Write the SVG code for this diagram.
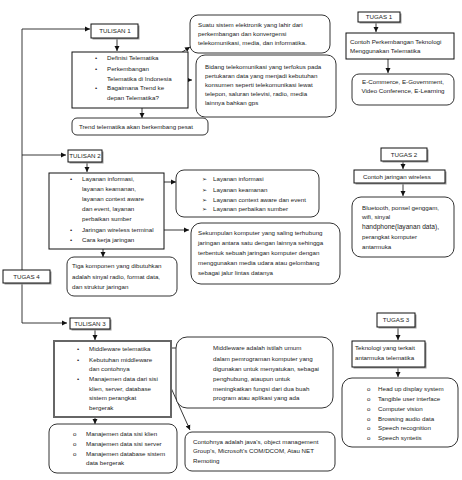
<svg xmlns="http://www.w3.org/2000/svg" width="462" height="480" viewBox="0 0 462 480">
<defs>
<marker id="ah" markerWidth="6" markerHeight="6" refX="5" refY="3" orient="auto" markerUnits="userSpaceOnUse">
<path d="M0,0.5 L5,3 L0,5.5 Z" fill="#111"/>
</marker>
<style>
text{font-family:"Liberation Sans",Arial,sans-serif;font-size:6.2px;fill:#222}
.lbl{text-anchor:middle}
.sq{fill:#fff;stroke:#111;stroke-width:1}
.thick{fill:#fff;stroke:#666;stroke-width:2}
.rd{fill:#fff;stroke:#333;stroke-width:1}
.sh{fill:#999}
.ln{fill:none;stroke:#222;stroke-width:0.9}
.ar{fill:none;stroke:#222;stroke-width:0.9;marker-end:url(#ah)}
</style>
</defs>
<rect width="462" height="480" fill="#fff"/>

<g id="connectors">
<polyline class="ln" points="22,270 22,29"/>
<line class="ar" x1="22" y1="29" x2="90" y2="29"/>
<line class="ar" x1="22" y1="155" x2="66" y2="155"/>
<polyline class="ar" points="22,283 22,323 67,323"/>
<line class="ar" x1="117" y1="38" x2="117" y2="51"/>
<line class="ar" x1="142" y1="108" x2="142" y2="118"/>
<line class="ar" x1="173" y1="58" x2="190" y2="47"/>
<line class="ar" x1="175" y1="80" x2="192" y2="80"/>
<line class="ar" x1="376" y1="21" x2="376" y2="32"/>
<line class="ar" x1="388" y1="59" x2="388" y2="73"/>
<line class="ar" x1="87" y1="162" x2="87" y2="172"/>
<line class="ar" x1="148" y1="182" x2="176" y2="182"/>
<line class="ar" x1="160" y1="230" x2="189" y2="230"/>
<line class="ar" x1="103" y1="249" x2="103" y2="257"/>
<line class="ar" x1="403" y1="161" x2="403" y2="169"/>
<line class="ar" x1="403" y1="183" x2="403" y2="196"/>
<line class="ar" x1="95" y1="329" x2="95" y2="340"/>
<line class="ar" x1="95" y1="417" x2="95" y2="424"/>
<line class="ar" x1="158" y1="348" x2="208" y2="348"/>
<line class="ar" x1="158" y1="359" x2="190" y2="430"/>
<line class="ar" x1="398" y1="327" x2="398" y2="340"/>
<line class="ar" x1="398" y1="367" x2="398" y2="377"/>
</g>

<g id="tulisan1">
<rect class="sh" x="92.5" y="25.5" width="47" height="14"/>
<rect class="sq" x="91" y="24" width="47" height="14"/>
<text class="lbl" x="115" y="33">TULISAN 1</text>
</g>

<g id="isi1">
<rect class="sq" x="72" y="52" width="116" height="56"/>
<text x="95" y="60">•</text><text x="107" y="60">Definisi Telematika</text>
<text x="95" y="71">•</text><text x="107" y="71">Perkembangan</text>
<text x="107" y="81">Telematika di Indonesia</text>
<text x="95" y="90">•</text><text x="107" y="90">Bagaimana Trend ke</text>
<text x="107" y="100">depan Telematika?</text>
</g>

<g id="trend">
<rect class="rd" x="72" y="118" width="136" height="17" rx="5"/>
<text x="79" y="129">Trend telematika akan berkembang pesat</text>
</g>

<g id="definisi">
<rect class="rd" x="190" y="15" width="140" height="38" rx="8"/>
<text x="198" y="27">Suatu sistem elektronik yang lahir dari</text>
<text x="198" y="36">perkembangan dan konvergensi</text>
<text x="198" y="45">telekomunikasi, media, dan informatika.</text>
</g>

<g id="bidang">
<rect class="rd" x="196" y="55" width="140" height="62" rx="9"/>
<text x="205" y="69">Bidang telekomunikasi yang terfokus pada</text>
<text x="205" y="78">pertukaran data yang menjadi kebutuhan</text>
<text x="205" y="87">konsumen seperti telekomunikasi lewat</text>
<text x="205" y="96">telepon, saluran televisi, radio, media</text>
<text x="205" y="105">lainnya bahkan gps</text>
</g>

<g id="tugas1">
<rect class="sh" x="359.5" y="13.5" width="42" height="10"/>
<rect class="sq" x="358" y="12" width="42" height="10"/>
<text class="lbl" x="379" y="19">TUGAS 1</text>
</g>

<g id="contoh1">
<rect class="sq" x="346" y="33" width="108" height="26"/>
<text x="350" y="44">Contoh Perkembangan Teknologi</text>
<text x="350" y="53">Menggunakan Telematika</text>
</g>

<g id="ecommerce">
<rect class="rd" x="352" y="74" width="102" height="31" rx="7"/>
<text class="lbl" x="403" y="84">E-Commerce, E-Government,</text>
<text class="lbl" x="403" y="93">Video Conference, E-Learning</text>
</g>

<g id="tulisan2">
<rect class="sh" x="69.5" y="151.5" width="34" height="12"/>
<rect class="sq" x="68" y="150" width="34" height="12"/>
<text class="lbl" x="85" y="158">TULISAN 2</text>
</g>

<g id="isi2">
<rect class="sq" x="49" y="173" width="115" height="76"/>
<text x="70" y="181">•</text><text x="82" y="181">Layanan informasi,</text>
<text x="82" y="191">layanan keamanan,</text>
<text x="82" y="201">layanan context aware</text>
<text x="82" y="211">dan event, layanan</text>
<text x="82" y="221">perbaikan sumber</text>
<text x="70" y="232">•</text><text x="82" y="232">Jaringan wireless terminal</text>
<text x="70" y="242">•</text><text x="82" y="242">Cara kerja jaringan</text>
</g>

<g id="layanan">
<rect class="rd" x="176" y="170" width="143" height="47" rx="8"/>
<text x="202" y="181">➢</text><text x="213" y="181">Layanan informasi</text>
<text x="202" y="192">➢</text><text x="213" y="192">Layanan keamanan</text>
<text x="202" y="202">➢</text><text x="213" y="202">Layanan context aware dan event</text>
<text x="202" y="211">➢</text><text x="213" y="211">Layanan perbaikan sumber</text>
</g>

<g id="jaringan">
<rect class="rd" x="191" y="223" width="149" height="61" rx="10"/>
<text x="198" y="235">Sekumpulan komputer yang saling terhubung</text>
<text x="198" y="245">jaringan antara satu dengan lainnya sehingga</text>
<text x="198" y="255">terbentuk sebuah jaringan komputer dengan</text>
<text x="198" y="265">menggunakan media udara atau gelombang</text>
<text x="198" y="275">sebagai jalur lintas datanya</text>
</g>

<g id="tiga">
<rect class="rd" x="67" y="257" width="110" height="39" rx="7"/>
<text x="72" y="268">Tiga komponen yang dibutuhkan</text>
<text x="72" y="279">adalah sinyal radio, format data,</text>
<text x="72" y="289">dan struktur jaringan</text>
</g>

<g id="tugas4">
<rect class="sh" x="4.5" y="271.5" width="47" height="13"/>
<rect class="sq" x="3" y="270" width="47" height="13"/>
<text class="lbl" x="26.5" y="278.5">TUGAS 4</text>
</g>

<g id="tugas2">
<rect class="sh" x="382.5" y="149.5" width="46" height="13"/>
<rect class="sq" x="381" y="148" width="46" height="13"/>
<text class="lbl" x="404" y="156.5">TUGAS 2</text>
</g>

<g id="contoh2">
<rect class="sh" x="355.5" y="171.5" width="91" height="13"/>
<rect class="sq" x="354" y="170" width="91" height="13"/>
<text x="363" y="179">Contoh jaringan wireless</text>
</g>

<g id="bluetooth">
<rect class="rd" x="352" y="197" width="102" height="60" rx="9"/>
<text x="362" y="210">Bluetooth, ponsel  genggam,</text>
<text x="362" y="219">wifi, sinyal</text>
<text x="362" y="229" style="font-size:6.6px">handphone(layanan data),</text>
<text x="362" y="239">perangkat komputer</text>
<text x="362" y="249">antarmuka</text>
</g>

<g id="tulisan3">
<rect class="sh" x="71.5" y="319.5" width="40" height="11"/>
<rect class="sq" x="70" y="318" width="40" height="11"/>
<text class="lbl" x="90" y="325.5">TULISAN 3</text>
</g>

<g id="isi3">
<rect class="thick" x="54" y="341" width="117" height="76"/>
<text x="77" y="351">•</text><text x="89" y="351">Middleware telematika</text>
<text x="77" y="362">•</text><text x="89" y="362">Kebutuhan middleware</text>
<text x="89" y="371">dan contohnya</text>
<text x="77" y="381">•</text><text x="89" y="381">Manajemen data dari sisi</text>
<text x="89" y="391">klien, server, database</text>
<text x="89" y="400">sistem perangkat</text>
<text x="89" y="410">bergerak</text>
</g>

<g id="manajemen">
<rect class="rd" x="49" y="424" width="128" height="49" rx="8"/>
<text x="73" y="436">o</text><text x="86" y="436">Manajemen data sisi klien</text>
<text x="73" y="446">o</text><text x="86" y="446">Manajemen data sisi server</text>
<text x="73" y="456">o</text><text x="86" y="456">Manajemen database sistem</text>
<text x="86" y="465">data bergerak</text>
</g>

<g id="middleware">
<rect class="rd" x="176" y="337" width="157" height="71" rx="11"/>
<text x="213" y="350">Middleware adalah istilah umum</text>
<text x="213" y="361">dalam pemrograman komputer yang</text>
<text x="213" y="371">digunakan untuk menyatukan, sebagai</text>
<text x="213" y="381">penghubung, ataupun untuk</text>
<text x="213" y="391">meningkatkan fungsi dari dua buah</text>
<text x="213" y="400">program atau aplikasi yang ada</text>
</g>

<g id="contohmw">
<rect class="rd" x="185" y="432" width="150" height="39" rx="7"/>
<text x="193" y="444">Contohnya adalah java's, object management</text>
<text x="193" y="453">Group's, Microsoft's COM/DCOM, Atau NET</text>
<text x="193" y="463">Remoting</text>
</g>

<g id="tugas3">
<rect class="sh" x="378.5" y="314.5" width="38" height="14"/>
<rect class="sq" x="377" y="313" width="38" height="14"/>
<text class="lbl" x="396" y="322">TUGAS 3</text>
</g>

<g id="teknologi">
<rect class="sh" x="353.5" y="342.5" width="73" height="26"/>
<rect class="sq" x="352" y="341" width="73" height="26"/>
<text x="355" y="350">Teknologi yang terkait</text>
<text x="355" y="360">antarmuka telematika</text>
</g>

<g id="daftar">
<rect class="rd" x="342" y="378" width="116" height="69" rx="10"/>
<text x="367" y="391">o</text><text x="378" y="391">Head up display system</text>
<text x="367" y="401">o</text><text x="378" y="401">Tangible user interface</text>
<text x="367" y="411">o</text><text x="378" y="411">Computer vision</text>
<text x="367" y="421">o</text><text x="378" y="421">Browsing audio data</text>
<text x="367" y="430">o</text><text x="378" y="430">Speech recognition</text>
<text x="367" y="440">o</text><text x="378" y="440">Speech syntetis</text>
</g>
</svg>
